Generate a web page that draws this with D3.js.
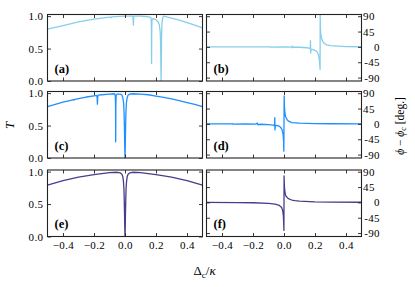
<!DOCTYPE html>
<html><head><meta charset="utf-8">
<script src="https://cdn.jsdelivr.net/npm/d3@7"></script>
<style>
body{margin:0;background:#fff}
svg{display:block}
</style>
</head><body>
<svg id="c" width="415" height="287"></svg>
<script>
// ---------- data ----------
const xTicks = [-0.4, -0.2, 0, 0.2, 0.4];
const xTickLabels = ["\u22120.4", "\u22120.2", "0.0", "0.2", "0.4"];
const tTicks = [0, 0.5, 1.0];
const tTickLabels = ["0.0", "0.5", "1.0"];
const phiTicks = [90, 45, 0, -45, -90];
const phiTickLabels = ["90", "45", "0", "-45", "-90"];
const panelNames = ["(a)", "(b)", "(c)", "(d)", "(e)", "(f)"];
const rowColors = ["#87CEEB", "#1E90FF", "#483D8B"];

// (a) transmission
const xA = [-0.5,-0.4,-0.3,-0.2,-0.1,-0.094,-0.09,-0.086,0,0.05,0.052,0.054,0.056,0.058,0.1,0.15,0.165,0.169,0.1705,0.1715,0.1725,0.174,0.18,0.2,0.215,0.222,0.227,0.23,0.232,0.233,0.2345,0.236,0.239,0.244,0.25,0.3,0.35,0.4,0.45,0.5];
const tA = [0.80,0.855,0.91,0.955,0.985,0.986,0.975,0.987,1.0,1.0,0.98,0.86,0.98,1.0,1.0,0.99,0.98,0.955,0.8,0.27,0.8,0.94,0.96,0.945,0.905,0.86,0.76,0.55,0.15,0.0,0.3,0.7,0.9,0.98,1.0,0.97,0.94,0.9,0.86,0.82];
// (b) phase
const xB = [-0.5,-0.3,-0.1,-0.092,-0.088,0,0.05,0.053,0.055,0.058,0.1,0.15,0.165,0.169,0.1708,0.1722,0.174,0.18,0.195,0.21,0.22,0.226,0.229,0.2315,0.2327,0.2335,0.235,0.238,0.243,0.25,0.26,0.275,0.3,0.35,0.4,0.5];
const pB = [0,0,0,0.8,-0.8,0,-0.5,2.5,-2.5,-0.5,-1,-2.5,-4,-5,18,-18,-8,-7,-9,-13,-20,-30,-42,-58,-66,92,55,35,24,16,10,6,3.5,2,1,0.5];
// (c) transmission
const xC = [-0.5,-0.45,-0.4,-0.35,-0.332,-0.33,-0.328,-0.3,-0.25,-0.2,-0.183,-0.18,-0.178,-0.176,-0.173,-0.15,-0.1,-0.068,-0.0625,-0.061,-0.06,-0.059,-0.057,-0.05,-0.03,-0.02,-0.014,-0.009,-0.006,-0.004,-0.002,0,0.002,0.004,0.006,0.009,0.014,0.02,0.03,0.05,0.1,0.15,0.2,0.25,0.3,0.35,0.4,0.45,0.5];
const tC = [0.79,0.825,0.86,0.89,0.9,0.89,0.9,0.915,0.94,0.958,0.965,0.94,0.83,0.94,0.968,0.975,0.985,0.99,0.96,0.8,0.25,0.8,0.97,0.985,0.985,0.97,0.93,0.85,0.7,0.5,0.2,0.0,0.2,0.5,0.7,0.85,0.93,0.97,0.985,0.99,0.985,0.975,0.955,0.935,0.91,0.885,0.855,0.825,0.79];
// (d) phase
const xD = [-0.5,-0.34,-0.332,-0.328,-0.25,-0.18,-0.172,-0.168,-0.15,-0.1,-0.07,-0.061,-0.0595,-0.0585,-0.056,-0.05,-0.04,-0.03,-0.02,-0.012,-0.006,-0.003,-0.001,0.001,0.003,0.006,0.01,0.02,0.03,0.05,0.1,0.2,0.3,0.5];
const pD = [0,0,0.8,-0.8,0,-0.5,2.5,-2.5,-1,-2,-3.5,-5,18,-18,-6,-4,-5,-7,-11,-18,-30,-48,-80,82,50,32,22,12,8,4,2,1,0.5,0];
// (e) transmission
const xE = [-0.5,-0.4,-0.3,-0.2,-0.1,-0.05,-0.03,-0.02,-0.014,-0.01,-0.007,-0.005,-0.003,-0.0015,0,0.0015,0.003,0.005,0.007,0.01,0.014,0.02,0.03,0.05,0.1,0.2,0.3,0.4,0.5];
const tE = [0.79,0.86,0.915,0.955,0.985,0.99,0.98,0.96,0.92,0.85,0.74,0.58,0.35,0.12,0.0,0.12,0.35,0.58,0.74,0.85,0.92,0.96,0.98,0.99,0.985,0.955,0.915,0.86,0.79];
// (f) phase
const xF = [-0.5,-0.3,-0.2,-0.1,-0.058,-0.03,-0.015,-0.008,-0.004,-0.002,-0.0005,0.0005,0.002,0.004,0.008,0.013,0.028,0.05,0.07,0.1,0.2,0.3,0.5];
const pF = [0,-0.5,-1,-3,-5,-9,-15,-25,-40,-60,-82,78,55,38,25,18,11,7,5,3.5,1.5,1,0.5];

// ---------- layout ----------
const FONT = "Liberation Serif";
const svg = d3.select("#c");
const cols = [[47.5, 202.5], [206.5, 361.5]];
const rows = [[14.5, 81], [91.5, 158], [170, 236.5]];
const frameColor = "#222";

const panels = [
  {xs: xA, ys: tA, kind: "T"}, {xs: xB, ys: pB, kind: "P"},
  {xs: xC, ys: tC, kind: "T"}, {xs: xD, ys: pD, kind: "P"},
  {xs: xE, ys: tE, kind: "T"}, {xs: xF, ys: pF, kind: "P"}
];

const defs = svg.append("defs");

panels.forEach((p, i) => {
  const r = Math.floor(i / 2), c = i % 2;
  const [x0, x1] = cols[c];
  const [y0, y1] = rows[r];
  const x = d3.scaleLinear().domain([-0.5, 0.5]).range([x0, x1]);
  const y = p.kind === "T"
    ? d3.scaleLinear().domain([0, 1.025]).range([y1, y0])
    : d3.scaleLinear().domain([-100, 95]).range([y1, y0]);
  const g = svg.append("g");

  const cid = "clip" + i;
  defs.append("clipPath").attr("id", cid)
    .append("rect").attr("x", x0).attr("y", y0).attr("width", x1 - x0).attr("height", y1 - y0);

  const line = d3.line().x(d => x(d[0])).y(d => y(d[1]));
  g.append("path")
    .datum(p.xs.map((v, k) => [v, p.ys[k]]))
    .attr("clip-path", `url(#${cid})`)
    .attr("d", line)
    .attr("fill", "none")
    .attr("stroke", rowColors[r])
    .attr("stroke-width", 1.3)
    .attr("stroke-linejoin", "round");

  const tickLen = 3.5;
  const showX = r === 2;
  const ab = g.append("g").attr("transform", `translate(0,${y1})`)
    .call(d3.axisBottom(x).tickValues(xTicks).tickSizeInner(-tickLen).tickSizeOuter(0).tickPadding(5)
      .tickFormat((d, k) => showX ? xTickLabels[k] : ""));
  const at = g.append("g").attr("transform", `translate(0,${y0})`)
    .call(d3.axisTop(x).tickValues(xTicks).tickSizeInner(-tickLen).tickSizeOuter(0).tickFormat(""));
  const yTicks = p.kind === "T" ? tTicks : phiTicks;
  const yLabels = p.kind === "T" ? tTickLabels : phiTickLabels;
  const al = g.append("g").attr("transform", `translate(${x0},0)`)
    .call(d3.axisLeft(y).tickValues(yTicks).tickSizeInner(-tickLen).tickSizeOuter(0).tickPadding(4)
      .tickFormat((d, k) => c === 0 ? yLabels[k] : ""));
  const ar = g.append("g").attr("transform", `translate(${x1},0)`)
    .call(d3.axisRight(y).tickValues(yTicks).tickSizeInner(-tickLen).tickSizeOuter(0).tickPadding(2)
      .tickFormat((d, k) => c === 1 ? yLabels[k] : ""));

  [ab, at, al, ar].forEach(a => {
    a.attr("font-family", FONT).attr("font-size", 11);
    a.select(".domain").remove();
    a.selectAll(".tick line").attr("stroke", frameColor).attr("stroke-width", 0.9);
    a.selectAll(".tick text").attr("fill", "#000").attr("letter-spacing", 0.4);
  });
  if (c === 1) {
    ar.selectAll(".tick text").each(function(d) {
      if (d <= 0) d3.select(this).attr("text-anchor", "end").attr("x", 18.5);
      else d3.select(this).attr("x", 1.5);
    });
  }

  g.append("rect").attr("x", x0).attr("y", y0).attr("width", x1 - x0).attr("height", y1 - y0)
    .attr("fill", "none").attr("stroke", frameColor).attr("stroke-width", 1.1);

  g.append("text").attr("x", x0 + 7).attr("y", y1 - 8.5)
    .attr("font-family", FONT).attr("font-size", 12.5).attr("font-weight", "bold").text(panelNames[i]);
});

// axis titles
svg.append("text").attr("transform", "translate(13.5,125.5) rotate(-90)")
  .attr("text-anchor", "middle").attr("font-family", FONT).attr("font-size", 13).attr("font-style", "italic").text("T");

const xl = svg.append("text").attr("x", 204.5).attr("y", 275).attr("text-anchor", "middle")
  .attr("font-family", FONT).attr("font-size", 13);
xl.append("tspan").text("\u0394");
xl.append("tspan").attr("font-size", 9).attr("dy", 2.5).text("c");
xl.append("tspan").attr("dy", -2.5).text("/");
xl.append("tspan").attr("font-style", "italic").text("\u03ba");

const rl = svg.append("text").attr("transform", "translate(404,126) rotate(-90)")
  .attr("text-anchor", "middle").attr("font-family", FONT).attr("font-size", 11.5);
rl.append("tspan").attr("font-style", "italic").text("\u03d5");
rl.append("tspan").text(" \u2212 ");
rl.append("tspan").attr("font-style", "italic").text("\u03d5");
rl.append("tspan").attr("font-size", 8).attr("dy", 2).text("c");
rl.append("tspan").attr("dy", -2).text(" [deg.]");
</script>
</body></html>
